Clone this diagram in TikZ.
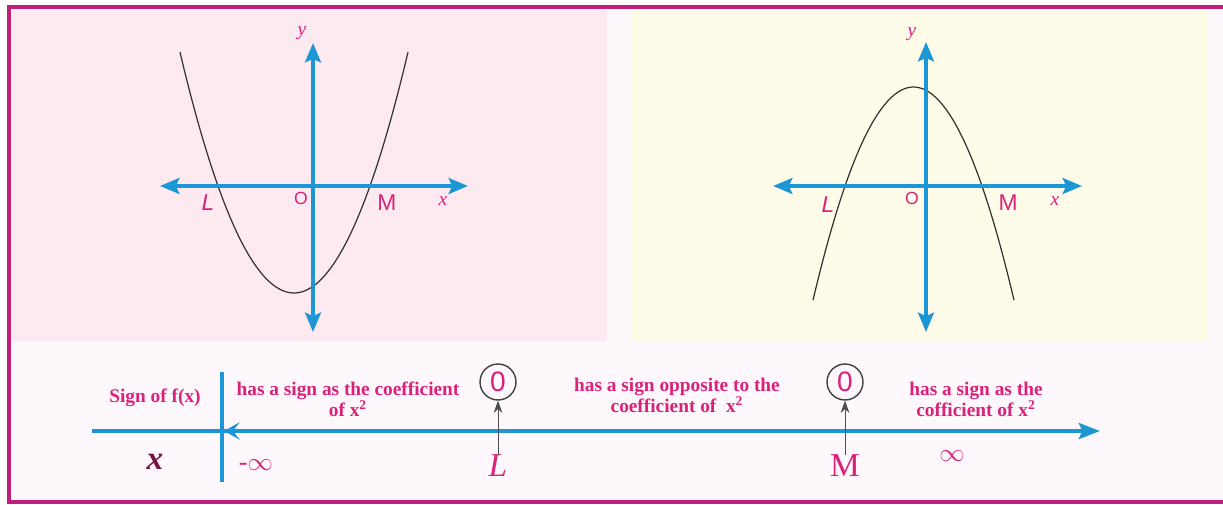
\documentclass[tikz,border=0pt]{standalone}
\usepackage{fontspec}
\setmainfont{Liberation Serif}
\newfontfamily\lblfont{Liberation Sans}
\usepackage{tikz}
\usetikzlibrary{positioning,arrows.meta}

\definecolor{frameclr}{RGB}{192,30,120}
\definecolor{pinktext}{RGB}{218,34,122}
\definecolor{axisblue}{RGB}{28,150,212}
\definecolor{pinkbg}{RGB}{253,234,241}
\definecolor{creambg}{RGB}{255,251,233}
\definecolor{lowbg}{RGB}{254,248,252}

\begin{document}
\begin{tikzpicture}[
    x=0.02cm, y=-0.02cm,
    axis/.style={line width=2.2pt, draw=axisblue},
    both/.style={axis, {Stealth[length=11pt,width=9pt,inset=2pt]}-{Stealth[length=11pt,width=9pt,inset=2pt]}},
    curve/.style={line width=0.7pt, black!80},
    glbl/.style={font=\lblfont\fontsize{13}{13}\selectfont, text=pinktext, inner sep=0pt},
    vlbl/.style={font=\itshape\fontsize{11}{11}\selectfont, text=pinktext, inner sep=0pt},
    note/.style={align=center, font=\bfseries\fontsize{11}{12}\selectfont, text=pinktext, inner sep=1pt},
    zero/.style={circle, draw=black!75, line width=0.8pt, minimum size=0.72cm, inner sep=0pt,
        font=\lblfont\fontsize{16}{16}\selectfont, text=pinktext},
    ptlbl/.style={font=\fontsize{19}{19}\selectfont, text=pinktext, inner sep=0pt},
    tick/.style={-{Stealth[length=7pt,width=5pt]}, line width=0.5pt, black!70}
]
\useasboundingbox (0,0) rectangle (1223,504);
% panels
\fill[lowbg] (9,7) rectangle (1230,502);
\fill[pinkbg] (12,10) rectangle (607,341);
\fill[creambg] (632,10) rectangle (1208,341);
\draw[frameclr, line width=1.8pt] (9,7) rectangle (1230,502);

% left graph: opens upward
\coordinate (lW) at (160,186);
\coordinate (lE) at (468,186);
\coordinate (lN) at (313,43);
\coordinate (lS) at (313,332);
\draw[curve] plot[domain=180:408, samples=60] (\x, {293-0.01853*(\x-294)^2});
\draw[both] (lW) -- (lE);
\draw[both] (lN) -- (lS);
\node[glbl] (lL) at (208,203) {\itshape L};
\node[glbl, font=\lblfont\fontsize{10}{10}\selectfont] (lO) at (301,198) {O};
\node[glbl] (lM) at (387,203) {M};
\node[vlbl] (lx) at (443,201) {x};
\node[vlbl] (ly) at (302,33) {y};

% right graph: opens downward
\coordinate (rW) at (773,186);
\coordinate (rE) at (1082,186);
\coordinate (rN) at (926,42);
\coordinate (rS) at (926,332);
\draw[curve] plot[domain=813:1014, samples=60] (\x, {87+0.0211*(\x-913.5)^2});
\draw[both] (rW) -- (rE);
\draw[both] (rN) -- (rS);
\node[glbl] (rL) at (828,205) {\itshape L};
\node[glbl, font=\lblfont\fontsize{10}{10}\selectfont] (rO) at (912,198) {O};
\node[glbl] (rM) at (1008,203) {M};
\node[vlbl] (rx) at (1055,201) {x};
\node[vlbl] (ry) at (912,34) {y};

% sign line
\coordinate (nW) at (92,431);
\coordinate (nE) at (1100,431);
\coordinate (sT) at (222,372);
\coordinate (sB) at (222,482);
\coordinate (tS) at (246,431);
\coordinate (tE) at (224,431);
\draw[axis, -{Stealth[length=12pt,width=9pt,inset=2pt]}] (nW) -- (nE);
\draw[axis, line width=2pt] (sT) -- (sB);
\draw[axis, line width=1pt, -{Stealth[length=9pt,width=10pt,inset=4pt]}] (tS) -- (tE);

\node[note] (sgn) at (155,398) {Sign of f(x)};
\node[ptlbl, font=\bfseries\itshape\fontsize{19}{19}\selectfont, text=pinktext!55!black] (xv) at (155,462) {x};
\node[ptlbl, font=\fontsize{15}{15}\selectfont] (minf) at (256,465) {-$\infty$};
\node[note] (txtA) at (348,399) {has a sign as the coefficient\\of x\textsuperscript{2}};
\node[note] (txtB) at (677,395) {has a sign opposite to the\\coefficient of~ x\textsuperscript{2}};
\node[note] (txtC) at (976,399) {has a sign as the\\cofficient of x\textsuperscript{2}};

\node[zero] (zL) at (498,382) {0};
\node[zero] (zM) at (845,382) {0};
\node[ptlbl] (Lb) at (498,466) {\itshape L};
\node[ptlbl] (Mb) at (845,466) {M};
\node[ptlbl, font=\fontsize{15}{15}\selectfont] (inf) at (952,456) {$\infty$};
\draw[tick] (Lb) -- (zL);
\draw[tick] (Mb) -- (zM);
\end{tikzpicture}
\end{document}
